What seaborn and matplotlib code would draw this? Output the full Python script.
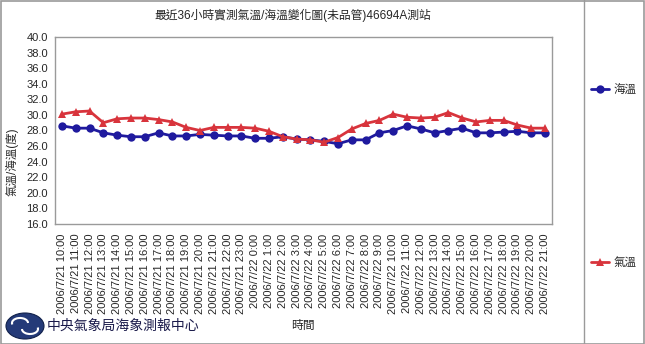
import numpy as np
import pandas as pd
import matplotlib
matplotlib.use("Agg")
import matplotlib.pyplot as plt
import seaborn as sns
from matplotlib.lines import Line2D
from matplotlib.patches import Ellipse, Rectangle, Arc

# ---------------- data ----------------
times = (["2006/7/21 %d:00" % h for h in range(10, 24)] +
         ["2006/7/22 %d:00" % h for h in range(0, 22)])
sea_temp = [28.6, 28.3, 28.3, 27.7, 27.4, 27.2, 27.2, 27.7, 27.3, 27.3, 27.5, 27.4,
            27.3, 27.3, 27.0, 27.0, 27.2, 26.9, 26.8, 26.6, 26.3, 26.8, 26.8, 27.7,
            28.0, 28.6, 28.2, 27.7, 28.0, 28.3, 27.7, 27.7, 27.8, 27.9, 27.7, 27.7]
air_temp = [30.1, 30.4, 30.5, 29.0, 29.5, 29.6, 29.6, 29.4, 29.1, 28.4, 28.0, 28.4,
            28.4, 28.4, 28.3, 27.9, 27.2, 26.9, 26.8, 26.5, 27.1, 28.2, 28.9, 29.3,
            30.1, 29.7, 29.6, 29.7, 30.3, 29.6, 29.1, 29.3, 29.3, 28.7, 28.3, 28.3]
series_names = ["海溫", "氣溫"]
y_ticks = [16, 18, 20, 22, 24, 26, 28, 30, 32, 34, 36, 38, 40]

title = "最近36小時實測氣溫/海溫變化圖(未品管)46694A測站"
xlabel = "時間"
ylabel = "氣溫/海溫(度)"
org_name = "中央氣象局海象測報中心"

df = pd.DataFrame({
    "idx": list(range(len(times))) * 2,
    "value": sea_temp + air_temp,
    "series": [series_names[0]] * len(times) + [series_names[1]] * len(times),
})

# ---------------- style ----------------
sns.set_style("white")
plt.rcParams["font.family"] = ["Liberation Sans", "Noto Sans CJK TC", "DejaVu Sans"]

W, H = 645, 344
fig = plt.figure(figsize=(W / 100, H / 100), dpi=100)

ax_left, ax_right, ax_top, ax_bot = 55, 552, 37, 224
ax = fig.add_axes([ax_left / W, 1 - ax_bot / H, (ax_right - ax_left) / W, (ax_bot - ax_top) / H])

blue = "#1f1a9e"
red = "#d8343c"
palette = {series_names[0]: blue, series_names[1]: red}
markers = {series_names[0]: "o", series_names[1]: "^"}

sns.lineplot(data=df, x="idx", y="value", hue="series", style="series",
             palette=palette, markers=markers, dashes=False, ax=ax,
             linewidth=2.0, markersize=6, markeredgewidth=0, legend=False)

ax.set_xlim(-0.5, len(times) - 0.5)
ax.set_ylim(16, 40)
ax.set_yticks(y_ticks)
ax.set_yticklabels(["%.1f" % v for v in y_ticks], fontsize=8)
ax.set_xticks(range(len(times)))
ax.set_xticklabels(times, rotation=90, fontsize=8, va="top")
ax.set_xticks(np.arange(-0.5, len(times), 1.0), minor=True)
ax.tick_params(axis="x", which="major", length=0, pad=7)
ax.tick_params(axis="x", which="minor", length=4, width=0.8, color="#888888", direction="out")
ax.tick_params(axis="y", which="major", length=3, width=0.8, color="#888888", direction="out", pad=2)
ax.set_xlabel("")
ax.set_ylabel("")
for s in ax.spines.values():
    s.set_color("#9a9a9a")
    s.set_linewidth(1.0)

# ---------------- texts ----------------
fig.text(293 / W, 1 - 15 / H, title, ha="center", va="center", fontsize=8.5)
fig.text(303 / W, 1 - 326 / H, xlabel, ha="center", va="center", fontsize=8.5)
fig.text(12 / W, 1 - 162 / H, ylabel, ha="center", va="center", rotation=90, fontsize=8.3)
fig.text(47 / W, 1 - 326 / H, org_name, ha="left", va="center", fontsize=10, color="#1a1a4a")

# logo emblem
fig.patches.append(Ellipse((25 / W, 1 - 326 / H), 38 / W, 26 / H, transform=fig.transFigure,
                           facecolor="#243a78", edgecolor="#10204a", lw=0.8))
fig.patches.append(Arc((20 / W, 1 - 323 / H), 16 / W, 10 / H, theta1=0, theta2=200,
                       transform=fig.transFigure, color="white", lw=1.5))
fig.patches.append(Arc((30 / W, 1 - 329 / H), 16 / W, 10 / H, theta1=180, theta2=380,
                       transform=fig.transFigure, color="white", lw=1.5))

# ---------------- legend ----------------
handles = [Line2D([0], [0], color=blue, marker="o", lw=2.0, markersize=6, markeredgewidth=0),
           Line2D([0], [0], color=red, marker="^", lw=2.0, markersize=6, markeredgewidth=0)]
leg = fig.legend(handles, series_names, loc="upper left",
                 bbox_to_anchor=(586 / W, 1 - 79 / H), frameon=False, fontsize=8.3,
                 handlelength=1.6, handletextpad=0.4, labelspacing=14.0, borderaxespad=0)

# separators / frame
fig.add_artist(Line2D([584 / W, 584 / W], [0, 1], transform=fig.transFigure, color="#9a9a9a", lw=1.0))
fig.add_artist(Rectangle((0.5 / W, 0.5 / H), (W - 1.5) / W, (H - 1.5) / H, transform=fig.transFigure,
                         fill=False, edgecolor="#9a9a9a", lw=1.2))

fig.savefig("out.png", dpi=100)
